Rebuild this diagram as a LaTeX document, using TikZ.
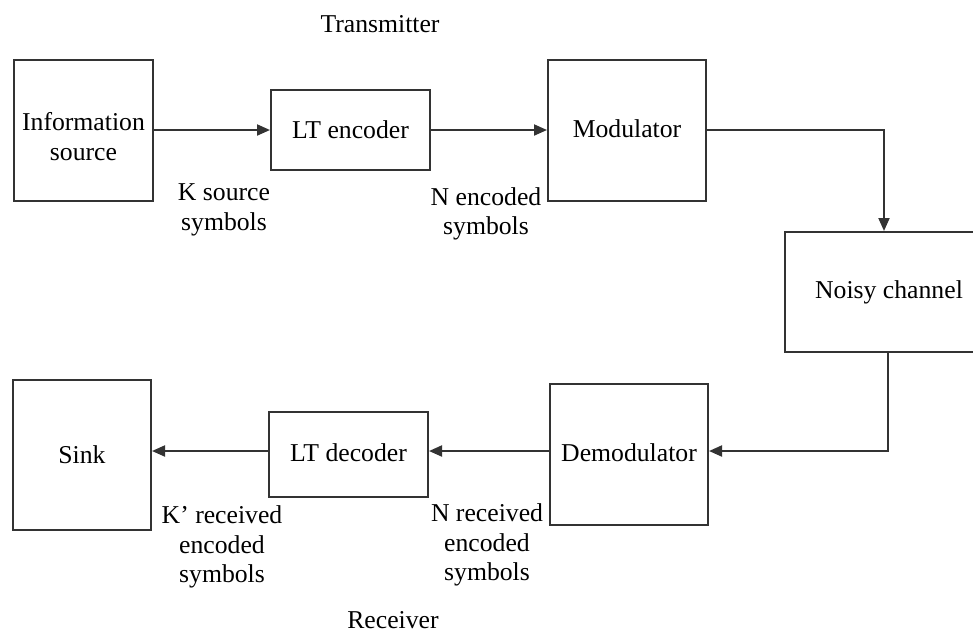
\documentclass[tikz,border=0pt]{standalone}
\usepackage{fontspec}
\setmainfont{Liberation Serif}
\usetikzlibrary{arrows.meta}
\begin{document}
\begin{tikzpicture}[x=1pt,y=-1pt,
  blk/.style={draw=black!80,line width=2pt,rectangle,inner sep=0pt,font=\fontsize{25.7}{29.5}\selectfont,align=center},
  lbl/.style={font=\fontsize{25.7}{29.5}\selectfont,align=center,inner sep=0pt},
  conn/.style={draw=black!80,line width=2pt,-{Triangle[length=13pt,width=11pt]}}]
\useasboundingbox (0,0) rectangle (973,633);
\node[blk,minimum width=139pt,minimum height=141pt] (info) at (83.5,130) {\rule{0pt}{31pt}Information\\source};
\node[blk,minimum width=159pt,minimum height=80pt] (enc) at (350.5,130) {LT encoder};
\node[blk,minimum width=158pt,minimum height=141pt] (mod) at (627,130) {\raisebox{2pt}{Modulator}};
\node[blk,minimum width=208pt,minimum height=120pt] (noisy) at (889,292) {Noisy channel};
\node[blk,minimum width=158pt,minimum height=141pt] (demod) at (629,454.5) {\raisebox{3pt}{Demodulator}};
\node[blk,minimum width=159pt,minimum height=85pt] (dec) at (348.5,454.5) {\raisebox{3pt}{LT decoder}};
\node[blk,minimum width=138pt,minimum height=150pt] (sink) at (82,455) {Sink};
\coordinate (row) at (0,451);
\draw[conn] (info.east) -- (enc.west);
\draw[conn] (enc.east) -- (mod.west);
\draw[conn] (mod.east) -| ([xshift=-5pt]noisy.north);
\draw[conn] ([xshift=-1pt]noisy.south) |- (demod.east |- row);
\draw[conn] (demod.west |- row) -- (dec.east |- row);
\draw[conn] (dec.west |- row) -- (sink.east |- row);
\node[lbl] (l1) at (224,210) {K source\\symbols};
\node[lbl] (l2) at (486,214) {N encoded\\symbols};
\node[lbl] (l3) at (222,547) {K’ received\\encoded\\symbols};
\node[lbl] (l4) at (487,545) {N received\\encoded\\symbols};
\node[lbl] (tx) at (380,24) {Transmitter};
\node[lbl] (rx) at (393,620) {Receiver};
\end{tikzpicture}
\end{document}
